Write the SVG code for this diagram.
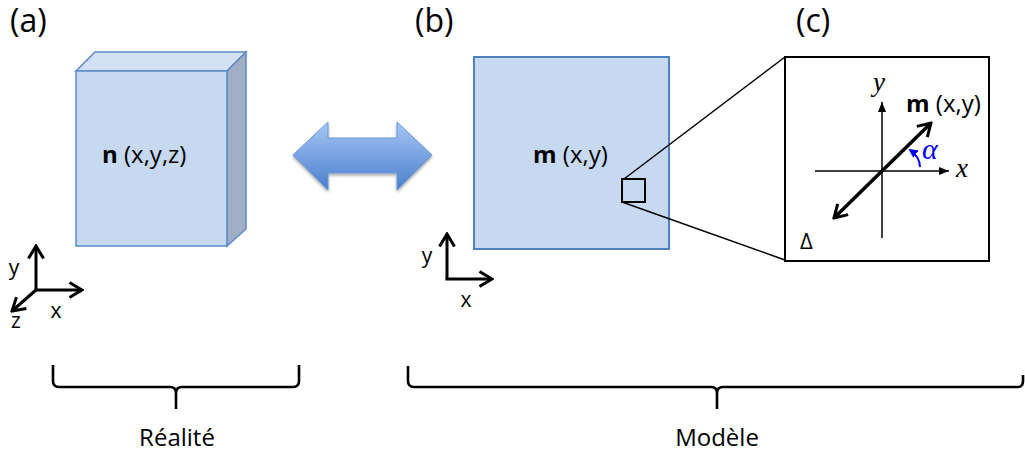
<svg xmlns="http://www.w3.org/2000/svg" width="1025" height="452" viewBox="0 0 1025 452">
<style>
.lbl{font-family:"Open Sans","Liberation Sans",sans-serif;font-size:32px;fill:#000}
.txt{font-family:"Open Sans","Liberation Sans",sans-serif;font-size:24px;fill:#000}
.ax{font-family:"Open Sans","Liberation Sans",sans-serif;font-size:21px;fill:#000}
.it{font-family:"Liberation Serif",serif;font-style:italic;font-size:27px;fill:#000}
.brace{fill:none;stroke:#000;stroke-width:2.6}
.axis{fill:none;stroke:#000;stroke-width:3}
</style>
<defs>
<marker id="open" viewBox="0 0 16 18" refX="14" refY="9" markerWidth="16" markerHeight="18" markerUnits="userSpaceOnUse" orient="auto-start-reverse">
<path d="M1.5,1.5 L14,9 L1.5,16.5" fill="none" stroke="#000" stroke-width="3"/>
</marker>
<marker id="tri" viewBox="0 0 10 10" refX="10" refY="5" markerWidth="10" markerHeight="10" markerUnits="userSpaceOnUse" orient="auto">
<path d="M0,1 L10,5 L0,9 Z" fill="#000"/>
</marker>
<marker id="blue" viewBox="0 0 10 10" refX="8" refY="5" markerWidth="9" markerHeight="9" markerUnits="userSpaceOnUse" orient="auto">
<path d="M0,0 L10,5 L0,10 Z" fill="#0000ff"/>
</marker>
<linearGradient id="arrg" x1="0" y1="0" x2="0" y2="1">
<stop offset="0" stop-color="#a7c7f6"/>
<stop offset="1" stop-color="#4a7ecc"/>
</linearGradient>
<filter id="sh" x="-20%" y="-20%" width="140%" height="150%">
<feGaussianBlur in="SourceAlpha" stdDeviation="1.5"/>
<feOffset dx="0" dy="2" result="b"/>
<feComponentTransfer><feFuncA type="linear" slope="0.35"/></feComponentTransfer>
<feMerge><feMergeNode/><feMergeNode in="SourceGraphic"/></feMerge>
</filter>
</defs>

<g id="label-a"><text class="lbl" x="10" y="32">(a)</text></g>
<g id="label-b"><text class="lbl" x="415" y="32">(b)</text></g>
<g id="label-c"><text class="lbl" x="796" y="32">(c)</text></g>

<g id="cube">
<polygon points="76,71 95,52 246,52 227,71" fill="#d3e1f3" stroke="#5b8ac6" stroke-width="1.5"/>
<polygon points="227,71 246,52 246,229 227,246" fill="#a1afc6" stroke="#5b8ac6" stroke-width="1.5"/>
<rect x="76" y="71" width="151" height="175" fill="#c6d9f0" stroke="#5b8ac6" stroke-width="1.5"/>
<text class="txt" x="102" y="163"><tspan font-weight="bold">n</tspan> (x,y,z)</text>
</g>

<g id="axes-a">
<line class="axis" x1="36" y1="290" x2="36" y2="246" marker-end="url(#open)"/>
<line class="axis" x1="34.5" y1="290" x2="82" y2="290" marker-end="url(#open)"/>
<line class="axis" x1="36" y1="290" x2="12" y2="311" marker-end="url(#open)"/>
<text class="ax" x="14" y="275" text-anchor="middle">y</text>
<text class="ax" x="56" y="318" text-anchor="middle">x</text>
<text class="ax" x="16" y="328" text-anchor="middle">z</text>
</g>

<g id="double-arrow">
<polygon points="293,155 328,122 328,138 397,138 397,122 432,155 397,190 397,173 328,173 328,190" fill="url(#arrg)" stroke="#6b97d6" stroke-width="1" filter="url(#sh)"/>
</g>

<g id="model">
<rect x="474" y="57" width="195" height="192" fill="#c6d9f0" stroke="#4f81bd" stroke-width="2"/>
<text class="txt" x="533" y="163"><tspan font-weight="bold">m</tspan> (x,y)</text>
<rect x="622" y="179" width="23" height="23" fill="none" stroke="#000" stroke-width="2"/>
</g>

<g id="axes-b">
<line class="axis" x1="447" y1="279" x2="447" y2="234" marker-end="url(#open)"/>
<line class="axis" x1="445.5" y1="279" x2="492" y2="279" marker-end="url(#open)"/>
<text class="ax" x="427" y="263" text-anchor="middle">y</text>
<text class="ax" x="466" y="307" text-anchor="middle">x</text>
</g>

<g id="zoom-box">
<rect x="785" y="57" width="204" height="204" fill="#fff" stroke="#000" stroke-width="2"/>
<line x1="815" y1="171" x2="949" y2="171" stroke="#000" stroke-width="1.5" marker-end="url(#tri)"/>
<line x1="882" y1="238" x2="882" y2="102" stroke="#000" stroke-width="1.5" marker-end="url(#tri)"/>
<text class="it" x="873" y="91">y</text>
<text class="it" x="956" y="177">x</text>
<line x1="834" y1="218" x2="931" y2="123" stroke="#000" stroke-width="3.5" marker-start="url(#open)" marker-end="url(#open)"/>
<text class="txt" x="906" y="112"><tspan font-weight="bold">m</tspan> (x,y)</text>
<path d="M920,167 Q920,157 910,150" fill="none" stroke="#0000ff" stroke-width="2" marker-end="url(#blue)"/>
<text class="it" x="922" y="159" style="fill:#0000ff;font-size:30px">α</text>
<text class="txt" x="800" y="249" style="font-size:22px">Δ</text>
</g>

<g id="connectors">
<line x1="624" y1="179" x2="785" y2="57" stroke="#000" stroke-width="1.5"/>
<line x1="622" y1="202" x2="785" y2="260" stroke="#000" stroke-width="1.5"/>
</g>

<g id="brace-realite">
<path class="brace" d="M53,365 L53,381 Q53,387 59,387 L170,387 Q176,387 176,393 L176,409 M176,393 Q176,387 182,387 L293,387 Q299,387 299,381 L299,365"/>
<text class="txt" x="177" y="446" text-anchor="middle">Réalité</text>
</g>

<g id="brace-modele">
<path class="brace" d="M408,366 L408,381 Q408,387 414,387 L711,387 Q717,387 717,393 L717,409 M717,393 Q717,387 723,387 L1018,387 Q1023,387 1023,381 L1023,375"/>
<text class="txt" x="717" y="446" text-anchor="middle">Modèle</text>
</g>
</svg>
